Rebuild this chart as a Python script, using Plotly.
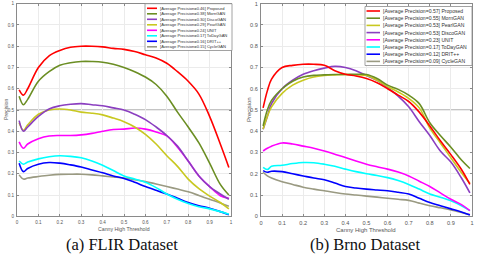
import plotly.graph_objects as go

W, H = 477, 257

thresholds = [0.01, 0.03, 0.05, 0.1, 0.15, 0.2, 0.25, 0.3, 0.35, 0.4, 0.45, 0.5,
              0.55, 0.6, 0.65, 0.7, 0.75, 0.8, 0.85, 0.9, 0.95, 0.99]

# ---- FLIR dataset ----
flir_methods = ["Proposed", "MornGAN", "DiscoGAN", "PearlGAN", "UNIT", "ToDayGAN", "DRIT++", "CycleGAN"]
flir_ap = [0.46, 0.38, 0.30, 0.29, 0.24, 0.17, 0.16, 0.15]
flir_colors = ["#ff0000", "#6b8e23", "#8b3fc0", "#c8c820", "#ff00ff", "#00ffff", "#0000ff", "#9a9a82"]
flir_proposed = [0.595, 0.57, 0.60, 0.70, 0.755, 0.78, 0.795, 0.80, 0.80, 0.797, 0.79, 0.785,
                 0.775, 0.76, 0.745, 0.72, 0.68, 0.635, 0.575, 0.47, 0.34, 0.23]
flir_morngan = [0.565, 0.525, 0.55, 0.635, 0.68, 0.71, 0.722, 0.728, 0.728, 0.725, 0.715, 0.70,
                0.68, 0.655, 0.62, 0.565, 0.49, 0.42, 0.345, 0.25, 0.15, 0.10]
flir_discogan = [0.45, 0.40, 0.42, 0.47, 0.505, 0.52, 0.527, 0.53, 0.525, 0.52, 0.51, 0.50,
                 0.48, 0.455, 0.42, 0.38, 0.33, 0.26, 0.19, 0.14, 0.105, 0.08]
flir_pearlgan = [0.44, 0.405, 0.43, 0.48, 0.50, 0.505, 0.50, 0.49, 0.485, 0.477, 0.462, 0.445,
                 0.42, 0.385, 0.34, 0.285, 0.235, 0.175, 0.13, 0.095, 0.065, 0.035]
flir_unit = [0.35, 0.32, 0.34, 0.365, 0.378, 0.38, 0.38, 0.383, 0.39, 0.40, 0.408, 0.41,
             0.415, 0.41, 0.397, 0.378, 0.325, 0.26, 0.19, 0.14, 0.097, 0.085]
flir_todaygan = [0.26, 0.245, 0.255, 0.27, 0.28, 0.285, 0.282, 0.275, 0.26, 0.24, 0.215, 0.19,
                 0.175, 0.16, 0.135, 0.105, 0.08, 0.06, 0.045, 0.035, 0.022, 0.01]
flir_drit = [0.25, 0.21, 0.225, 0.245, 0.253, 0.25, 0.242, 0.232, 0.218, 0.205, 0.19, 0.178,
             0.16, 0.14, 0.122, 0.105, 0.085, 0.065, 0.05, 0.038, 0.022, 0.007]
flir_cyclegan = [0.195, 0.175, 0.18, 0.187, 0.193, 0.197, 0.198, 0.198, 0.195, 0.19, 0.185, 0.18,
                 0.172, 0.163, 0.152, 0.14, 0.128, 0.115, 0.098, 0.08, 0.063, 0.047]
flir_series = [flir_proposed, flir_morngan, flir_discogan, flir_pearlgan, flir_unit,
               flir_todaygan, flir_drit, flir_cyclegan]

# ---- Brno dataset ----
brno_methods = ["Proposed", "MornGAN", "PearlGAN", "DiscoGAN", "UNIT", "ToDayGAN", "DRIT++", "CycleGAN"]
brno_ap = [0.57, 0.55, 0.53, 0.53, 0.23, 0.17, 0.12, 0.09]
brno_colors = ["#ff0000", "#6b8e23", "#c8c820", "#8b3fc0", "#ff00ff", "#00ffff", "#0000ff", "#9a9a82"]
brno_proposed = [0.51, 0.59, 0.645, 0.70, 0.71, 0.715, 0.715, 0.71, 0.685, 0.668, 0.66, 0.648,
                 0.628, 0.60, 0.57, 0.54, 0.49, 0.425, 0.355, 0.29, 0.22, 0.15]
brno_morngan = [0.425, 0.50, 0.545, 0.60, 0.635, 0.655, 0.663, 0.665, 0.667, 0.667, 0.668, 0.667,
                0.648, 0.617, 0.597, 0.57, 0.53, 0.44, 0.38, 0.325, 0.265, 0.225]
brno_pearlgan = [0.41, 0.47, 0.515, 0.578, 0.617, 0.64, 0.655, 0.662, 0.665, 0.667, 0.665, 0.662,
                 0.64, 0.61, 0.585, 0.555, 0.51, 0.415, 0.345, 0.275, 0.205, 0.155]
brno_discogan = [0.41, 0.47, 0.53, 0.60, 0.64, 0.668, 0.685, 0.697, 0.705, 0.70, 0.685, 0.662,
                 0.64, 0.605, 0.565, 0.515, 0.445, 0.38, 0.307, 0.255, 0.18, 0.11]
brno_unit = [0.307, 0.32, 0.33, 0.345, 0.34, 0.33, 0.32, 0.307, 0.292, 0.277, 0.26, 0.245,
             0.233, 0.222, 0.208, 0.19, 0.165, 0.14, 0.11, 0.08, 0.055, 0.027]
brno_todaygan = [0.23, 0.22, 0.235, 0.24, 0.248, 0.253, 0.252, 0.245, 0.235, 0.222, 0.21, 0.2,
                 0.192, 0.182, 0.168, 0.15, 0.128, 0.105, 0.09, 0.073, 0.05, 0.027]
brno_drit = [0.215, 0.207, 0.212, 0.21, 0.2, 0.19, 0.18, 0.172, 0.157, 0.14, 0.133, 0.128,
             0.124, 0.12, 0.113, 0.105, 0.085, 0.065, 0.05, 0.035, 0.02, 0.006]
brno_cyclegan = [0.207, 0.19, 0.18, 0.163, 0.15, 0.137, 0.128, 0.12, 0.112, 0.105, 0.1, 0.095,
                 0.09, 0.085, 0.08, 0.075, 0.062, 0.05, 0.04, 0.03, 0.018, 0.008]
brno_series = [brno_proposed, brno_morngan, brno_pearlgan, brno_discogan, brno_unit,
               brno_todaygan, brno_drit, brno_cyclegan]

tick_vals = [0, 0.1, 0.2, 0.3, 0.4, 0.5, 0.6, 0.7, 0.8, 0.9, 1]
tick_text = ["0", "0.1", "0.2", "0.3", "0.4", "0.5", "0.6", "0.7", "0.8", "0.9", "1"]
captions = ["(a) FLIR Dataset", "(b) Brno Dataset"]

fig = go.Figure()

for i in reversed(range(len(flir_series))):
    fig.add_trace(go.Scatter(x=thresholds, y=flir_series[i], mode="lines", line_shape="spline",
                             line=dict(color=flir_colors[i], width=1.6), xaxis="x", yaxis="y",
                             showlegend=False, hoverinfo="skip"))
for i in reversed(range(len(brno_series))):
    fig.add_trace(go.Scatter(x=thresholds, y=brno_series[i], mode="lines", line_shape="spline",
                             line=dict(color=brno_colors[i], width=1.6), xaxis="x2", yaxis="y2",
                             showlegend=False, hoverinfo="skip"))

def px(x):
    return x / W

def py(y):
    return 1 - y / H

ytop, ybot = 3.7, 216.3
dom_l = [px(17), px(231)]
dom_r = [px(261), px(472)]

def axis(fs):
    return dict(range=[0, 1], tickvals=tick_vals, ticktext=tick_text, showgrid=True,
                gridcolor="#ebebeb", gridwidth=1, showline=True, linecolor="#8a8a8a",
                linewidth=1, mirror="ticks", ticks="inside", ticklen=2, tickcolor="#8a8a8a",
                zeroline=False, automargin=False, ticklabelstandoff=1,
                tickfont=dict(size=fs, color="#555", family="Liberation Sans"))

fig.update_layout(
    width=W, height=H, margin=dict(l=0, r=0, t=0, b=0, autoexpand=False),
    paper_bgcolor="white", plot_bgcolor="white", showlegend=False,
    xaxis=dict(domain=dom_l, anchor="y", **axis(4.6)),
    yaxis=dict(domain=[py(ybot), py(ytop)], anchor="x", **axis(4.6)),
    xaxis2=dict(domain=dom_r, anchor="y2", **axis(5.6)),
    yaxis2=dict(domain=[py(ybot), py(ytop)], anchor="x2", **axis(5.6)),
)

for xr, yr in [("x domain", "y"), ("x2 domain", "y2")]:
    fig.add_shape(type="line", xref=xr, yref=yr, x0=0, x1=1, y0=0.5, y1=0.5,
                  line=dict(color="#b0b0b0", width=1.5), layer="below")

ann = []
def text(t, x, y, size, color="#555", family="Liberation Sans", angle=0):
    ann.append(dict(text=t, x=px(x), y=py(y), xref="paper", yref="paper", xanchor="center",
                    yanchor="middle", textangle=angle, showarrow=False,
                    font=dict(size=size, color=color, family=family)))

text("Canny High Threshold", 124, 229, 5.2)
text("Canny High Threshold", 366, 230, 6)
text("Precision", 6, 110, 5.2, angle=-90)
text("Precision", 249, 110, 6, angle=-90)
text(captions[0], 122, 244, 16.5, color="#111", family="Liberation Serif")
text(captions[1], 365, 244, 16.5, color="#111", family="Liberation Serif")

shapes = []
def make_legend(methods, aps, colors, box, line_x0, line_x1, text_x, row0, step, fsize):
    x0, y0, x1, y1 = box
    shapes.append(dict(type="rect", xref="paper", yref="paper", x0=px(x0), x1=px(x1),
                       y0=py(y1), y1=py(y0), fillcolor="white",
                       line=dict(color="#8a8a8a", width=0.8), layer="above"))
    for k, (m, a, c) in enumerate(zip(methods, aps, colors)):
        yy = row0 + k * step
        shapes.append(dict(type="line", xref="paper", yref="paper", x0=px(line_x0), x1=px(line_x1),
                           y0=py(yy), y1=py(yy), line=dict(color=c, width=1.6), layer="above"))
        ann.append(dict(text="[Average Precision=%.2f] %s" % (a, m), x=px(text_x), y=py(yy),
                        xref="paper", yref="paper", xanchor="left", yanchor="middle",
                        showarrow=False, font=dict(size=fsize, color="#333", family="Liberation Sans")))

make_legend(flir_methods, flir_ap, flir_colors, (145, 3.7, 232, 50.5), 147, 157, 157.5, 8.3, 5.5, 4.1)
make_legend(brno_methods, brno_ap, brno_colors, (365, 6.5, 472, 65.5), 366.5, 380, 380.5, 11, 7.2, 5.1)

fig.update_layout(annotations=ann, shapes=fig.layout.shapes + tuple(shapes))

fig.write_html("out.html", config={"displayModeBar": False, "staticPlot": True},
               post_script="document.body.style.margin='0';document.body.style.overflow='hidden';")
